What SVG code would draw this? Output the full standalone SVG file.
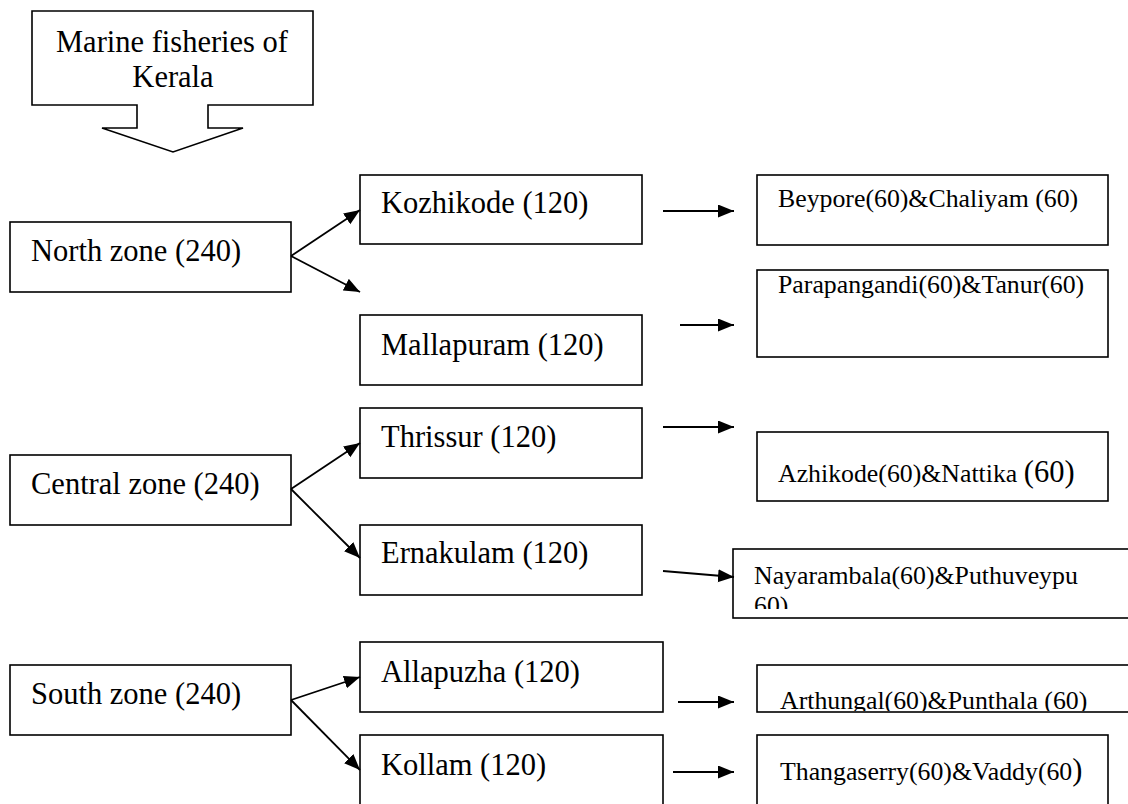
<svg xmlns="http://www.w3.org/2000/svg" width="1128" height="804" viewBox="0 0 1128 804">
  <style>
    .box { fill: #fff; stroke: #000; stroke-width: 1.6; }
    .lbl { font-family: "Liberation Serif", "Times New Roman", serif; font-size: 30.5px; fill: #000; }
    .sm { font-family: "Liberation Serif", "Times New Roman", serif; font-size: 25.8px; fill: #000; }
    .edge { stroke: #000; stroke-width: 1.8; fill: none; marker-end: url(#arrow); }
  </style>
  <defs>
    <marker id="arrow" markerUnits="userSpaceOnUse" markerWidth="18" markerHeight="14" refX="16" refY="6.5" orient="auto">
      <path d="M0,0 L16,6.5 L0,13 Z" fill="#000"/>
    </marker>
    <clipPath id="clipNay"><rect x="733" y="549" width="395" height="60"/></clipPath>
    <clipPath id="clipArt"><rect x="757" y="665" width="371" height="46"/></clipPath>
  </defs>
  <rect width="1128" height="804" fill="#fff"/>

  <!-- title callout with down arrow -->
  <g id="title">
    <path class="box" d="M32,11 H313 V105 H208 V128 H243 L173,152 L102,128 H137 V105 H32 Z"/>
    <text class="lbl" x="172" y="52" text-anchor="middle">Marine fisheries of</text>
    <text class="lbl" x="173" y="87" text-anchor="middle">Kerala</text>
  </g>

  <!-- zones -->
  <g id="north">
    <rect class="box" x="10" y="222" width="281" height="70"/>
    <text class="lbl" x="31" y="261">North zone (240)</text>
  </g>
  <g id="central">
    <rect class="box" x="10" y="455" width="281" height="70"/>
    <text class="lbl" x="31" y="494">Central zone (240)</text>
  </g>
  <g id="south">
    <rect class="box" x="10" y="665" width="281" height="70"/>
    <text class="lbl" x="31" y="704">South zone (240)</text>
  </g>

  <!-- districts -->
  <g id="kozhikode">
    <rect class="box" x="360" y="175" width="282" height="69"/>
    <text class="lbl" x="381" y="213">Kozhikode (120)</text>
  </g>
  <g id="mallapuram">
    <rect class="box" x="360" y="315" width="282" height="70"/>
    <text class="lbl" x="381" y="355">Mallapuram (120)</text>
  </g>
  <g id="thrissur">
    <rect class="box" x="360" y="408" width="282" height="70"/>
    <text class="lbl" x="381" y="447">Thrissur (120)</text>
  </g>
  <g id="ernakulam">
    <rect class="box" x="360" y="525" width="282" height="70"/>
    <text class="lbl" x="381" y="563">Ernakulam (120)</text>
  </g>
  <g id="allapuzha">
    <rect class="box" x="360" y="642" width="303" height="70"/>
    <text class="lbl" x="381" y="682">Allapuzha (120)</text>
  </g>
  <g id="kollam">
    <rect class="box" x="360" y="735" width="303" height="80"/>
    <text class="lbl" x="381" y="775">Kollam (120)</text>
  </g>

  <!-- landing centres -->
  <g id="beypore">
    <rect class="box" x="757" y="175" width="351" height="70"/>
    <text class="sm" x="778" y="207">Beypore(60)&amp;Chaliyam (60)</text>
  </g>
  <g id="parapangandi">
    <rect class="box" x="757" y="270" width="351" height="87"/>
    <text class="sm" x="778" y="293">Parapangandi(60)&amp;Tanur(60)</text>
  </g>
  <g id="azhikode">
    <rect class="box" x="757" y="432" width="351" height="69"/>
    <text class="sm" x="778" y="482">Azhikode(60)&amp;Nattika <tspan font-size="30.5px">(60)</tspan></text>
  </g>
  <g id="nayarambala">
    <rect class="box" x="733" y="549" width="400" height="69"/>
    <g clip-path="url(#clipNay)">
      <text class="sm" x="754" y="584">Nayarambala(60)&amp;Puthuveypu</text>
      <text class="sm" x="754" y="614">60)</text>
    </g>
  </g>
  <g id="arthungal">
    <rect class="box" x="757" y="665" width="376" height="47"/>
    <g clip-path="url(#clipArt)">
      <text class="sm" x="780" y="709">Arthungal(60)&amp;Punthala (60)</text>
    </g>
  </g>
  <g id="thangaserry">
    <rect class="box" x="757" y="735" width="351" height="80"/>
    <text class="sm" x="780" y="780">Thangaserry(60)&amp;Vaddy(60<tspan font-size="30.5px">)</tspan></text>
  </g>

  <!-- connectors -->
  <g id="connectors">
    <line class="edge" x1="291" y1="256" x2="360" y2="210"/>
    <line class="edge" x1="291" y1="256" x2="360" y2="292"/>
    <line class="edge" x1="291" y1="489" x2="360" y2="443"/>
    <line class="edge" x1="291" y1="489" x2="360" y2="558"/>
    <line class="edge" x1="291" y1="700" x2="360" y2="677"/>
    <line class="edge" x1="291" y1="700" x2="360" y2="770"/>

    <line class="edge" x1="663" y1="211" x2="734" y2="211"/>
    <line class="edge" x1="680" y1="325" x2="734" y2="325"/>
    <line class="edge" x1="663" y1="427" x2="734" y2="427"/>
    <line class="edge" x1="663" y1="571" x2="734" y2="577"/>
    <line class="edge" x1="678" y1="702" x2="734" y2="702"/>
    <line class="edge" x1="673" y1="772" x2="734" y2="772"/>
  </g>
</svg>
